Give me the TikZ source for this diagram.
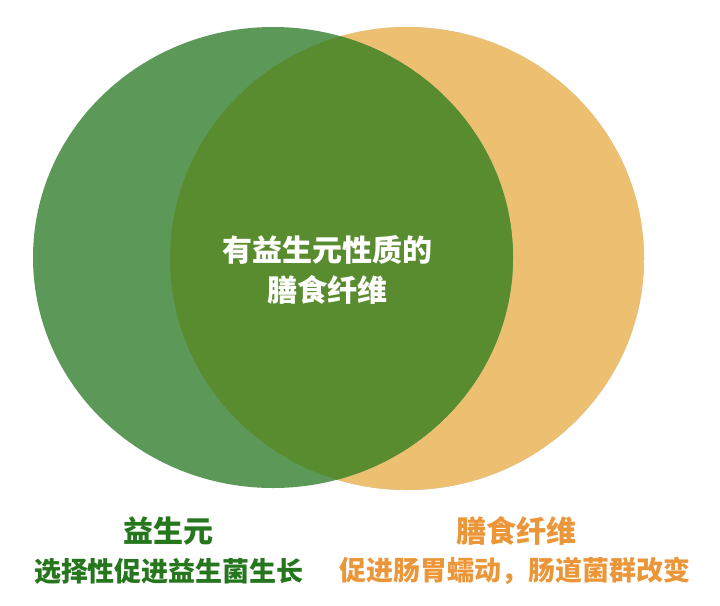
\documentclass[tikz,border=0pt]{standalone}
\usepackage{fontspec}
\newfontfamily\cjk{Noto Sans CJK SC}
\definecolor{prebio}{RGB}{92,153,88}
\definecolor{both}{RGB}{89,139,47}
\definecolor{fibre}{RGB}{236,192,112}
\definecolor{prebiotext}{RGB}{38,118,30}
\definecolor{fibretext}{RGB}{236,150,58}
\tikzset{
  midtext/.style={text=white, font=\cjk\bfseries\fontsize{30}{40}\selectfont, align=center},
  headtext/.style={font=\cjk\bfseries\fontsize{30}{34}\selectfont, inner sep=0pt},
  subtext/.style={font=\cjk\bfseries\fontsize{27}{30}\selectfont, inner sep=0pt}
}
\begin{document}
\begin{tikzpicture}[x=1pt, y=-1pt]
    \useasboundingbox (0,0) rectangle (720,605);

    \coordinate (pc) at (273,257.5);
    \coordinate (fc) at (407,258.5);

    \fill[black!35, opacity=0.7, shift={(2,2)}] (fc) ellipse [x radius=237, y radius=231.5];
    \fill[fibre] (fc) ellipse [x radius=237, y radius=231.5];
    \fill[prebio] (pc) ellipse [x radius=240, y radius=230.5];
    \begin{scope}
        \clip (pc) ellipse [x radius=240, y radius=230.5];
        \fill[both] (fc) ellipse [x radius=237, y radius=231.5];
    \end{scope}

    \node[midtext] (mid) at (327,270) {有益生元性质的\\膳食纤维};

    \node[headtext, text=prebiotext] (phead) at (168,531) {益生元};
    \node[subtext, text=prebiotext] (psub) at (169,571) {选择性促进益生菌生长};
    \node[headtext, text=fibretext] (fhead) at (516,531) {膳食纤维};
    \node[subtext, text=fibretext] (fsub) at (515,571) {促进肠胃蠕动，肠道菌群改变};
\end{tikzpicture}
\end{document}
